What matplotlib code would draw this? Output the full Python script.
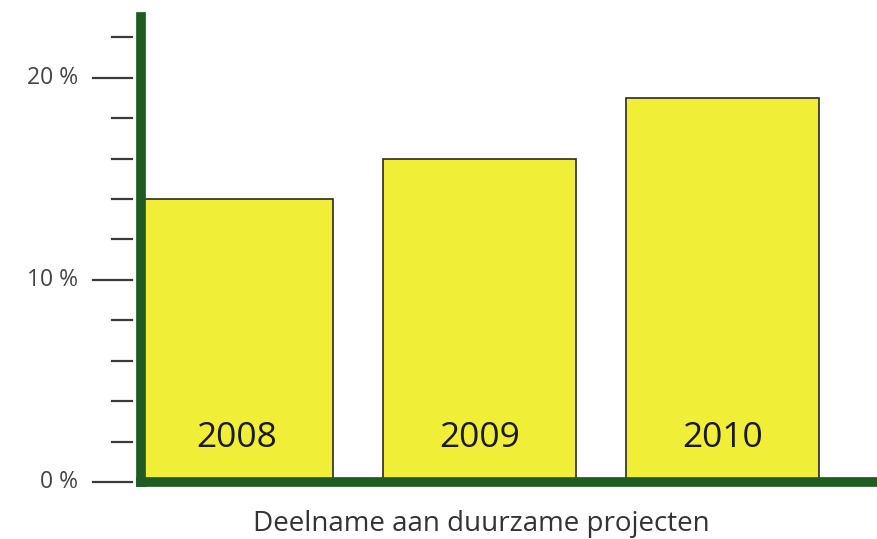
import matplotlib
matplotlib.use("Agg")
import matplotlib.pyplot as plt
from matplotlib.lines import Line2D

years = ["2008", "2009", "2010"]
values = [14, 16, 19]
major_ticks = [0, 10, 20]
major_labels = ["0 %", "10 %", "20 %"]
minor_ticks = [2, 4, 6, 8, 12, 14, 16, 18, 22]
xlabel = "Deelname aan duurzame projecten"

FONT = ["Open Sans", "DejaVu Sans"]
GREEN = "#1f5c22"
YELLOW = "#f1ee38"

fig = plt.figure(figsize=(8.78, 5.39), dpi=100)
ax = fig.add_axes([141 / 878, (539 - 482) / 539, 1 - 141 / 878, (482 - 17) / 539])

x = list(range(len(years)))
ax.bar(x, values, width=0.794, color=YELLOW, edgecolor="#2a2a2a", linewidth=1.2, zorder=2)
ax.set_xlim(-0.393, 2.64)
ax.set_ylim(0, 23)

for xi, yr in zip(x, years):
    ax.text(xi, 2.2, yr, ha="center", va="center", fontsize=25.5, color="#1a1a1a",
            family=FONT, zorder=3)

for s in ["top", "right"]:
    ax.spines[s].set_visible(False)
for s in ["left", "bottom"]:
    ax.spines[s].set_color(GREEN)
    ax.spines[s].set_linewidth(7)
    ax.spines[s].set_capstyle("projecting")
    ax.spines[s].set_zorder(4)

ax.set_xticks([])
ax.set_yticks([])

trans = ax.get_yaxis_transform()
for t in major_ticks:
    ax.add_line(Line2D([-0.0651, -0.0122], [t, t], transform=trans, color="#3a3a3a",
                       linewidth=1.6, clip_on=False))
for t in minor_ticks:
    ax.add_line(Line2D([-0.0393, -0.0122], [t, t], transform=trans, color="#3a3a3a",
                       linewidth=1.6, clip_on=False))
for t, lab in zip(major_ticks, major_labels):
    ax.text(-0.0855, t, lab, transform=trans, ha="right", va="center", fontsize=16.5,
            color="#444444", family=FONT)

fig.text(481 / 878, (539 - 531) / 539, xlabel, ha="center", va="baseline", fontsize=20,
         color="#333333", family=FONT)

fig.savefig("out.png", dpi=100, facecolor="white")
